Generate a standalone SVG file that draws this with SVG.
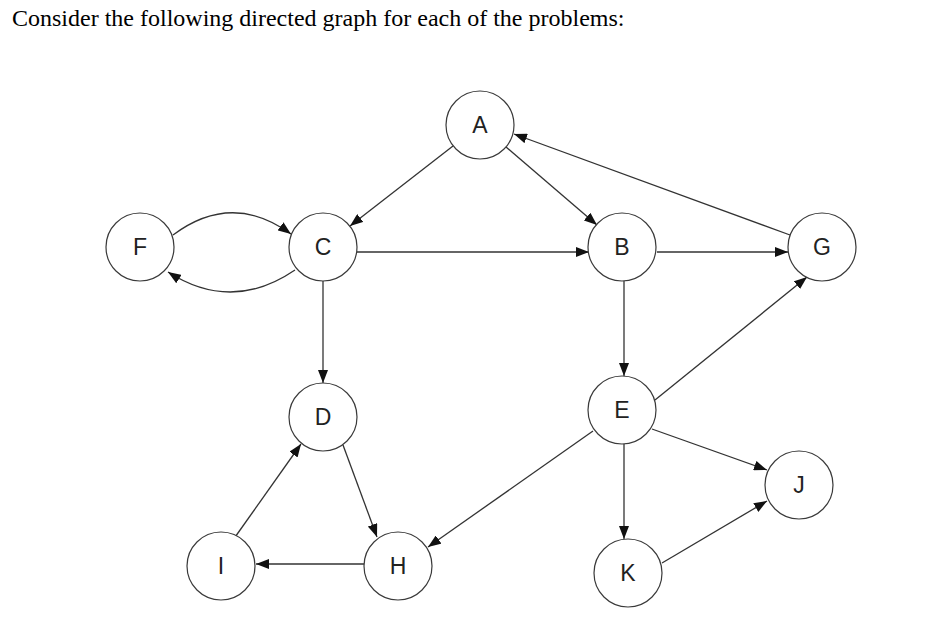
<svg xmlns="http://www.w3.org/2000/svg" width="950" height="643" viewBox="0 0 950 643">
<style>
.node circle{fill:#fff;stroke:#3a3a3a;stroke-width:1.2}
.node text{font-family:"Liberation Sans",Arial,sans-serif;font-size:23px;fill:#222;text-anchor:middle;dominant-baseline:central}
#edges line,#edges path{stroke:#333;stroke-width:1.3;fill:none;marker-end:url(#ah)}
.title{font-family:"Liberation Serif","Times New Roman",serif;font-size:24px;fill:#000}
</style>
<defs>
<marker id="ah" markerUnits="userSpaceOnUse" markerWidth="14" markerHeight="10" refX="13" refY="5" orient="auto">
<path d="M0,0 L13,5 L0,10 Z" fill="#111"/>
</marker>
</defs>
<rect width="950" height="643" fill="#fff"/>
<text class="title" x="12" y="26">Consider the following directed graph for each of the problems:</text>
<g id="edges">
<line x1="453" y1="146" x2="350" y2="226"/>
<line x1="506" y1="147" x2="597" y2="225"/>
<line x1="790" y1="235" x2="514" y2="134"/>
<path d="M173,235 Q232,191 291,234"/>
<path d="M295,270 Q232,313 168,272"/>
<line x1="357" y1="252" x2="589" y2="252"/>
<line x1="657" y1="252" x2="788" y2="252"/>
<line x1="624" y1="281" x2="624" y2="376"/>
<line x1="323" y1="281" x2="323" y2="383"/>
<line x1="624" y1="444" x2="624" y2="539"/>
<line x1="655" y1="400" x2="807" y2="277"/>
<line x1="652" y1="429" x2="767" y2="470"/>
<line x1="662" y1="563" x2="767" y2="501"/>
<line x1="593" y1="431" x2="428" y2="547"/>
<line x1="343" y1="445" x2="377" y2="537"/>
<line x1="364" y1="564" x2="256" y2="564"/>
<line x1="233" y1="540" x2="301" y2="444"/>
</g>
<g id="node-A" class="node"><circle cx="480" cy="125" r="34"/><text x="480" y="125">A</text></g>
<g id="node-F" class="node"><circle cx="140" cy="247" r="34"/><text x="140" y="247">F</text></g>
<g id="node-C" class="node"><circle cx="323" cy="247" r="34"/><text x="323" y="247">C</text></g>
<g id="node-B" class="node"><circle cx="622" cy="247" r="34"/><text x="622" y="247">B</text></g>
<g id="node-G" class="node"><circle cx="822" cy="247" r="34"/><text x="822" y="247">G</text></g>
<g id="node-D" class="node"><circle cx="323" cy="417" r="34"/><text x="323" y="417">D</text></g>
<g id="node-E" class="node"><circle cx="622" cy="410" r="34"/><text x="622" y="410">E</text></g>
<g id="node-J" class="node"><circle cx="799" cy="485" r="34"/><text x="799" y="485">J</text></g>
<g id="node-I" class="node"><circle cx="221" cy="566" r="34"/><text x="221" y="566">I</text></g>
<g id="node-H" class="node"><circle cx="398" cy="566" r="34"/><text x="398" y="566">H</text></g>
<g id="node-K" class="node"><circle cx="628" cy="573" r="34"/><text x="628" y="573">K</text></g>
</svg>
